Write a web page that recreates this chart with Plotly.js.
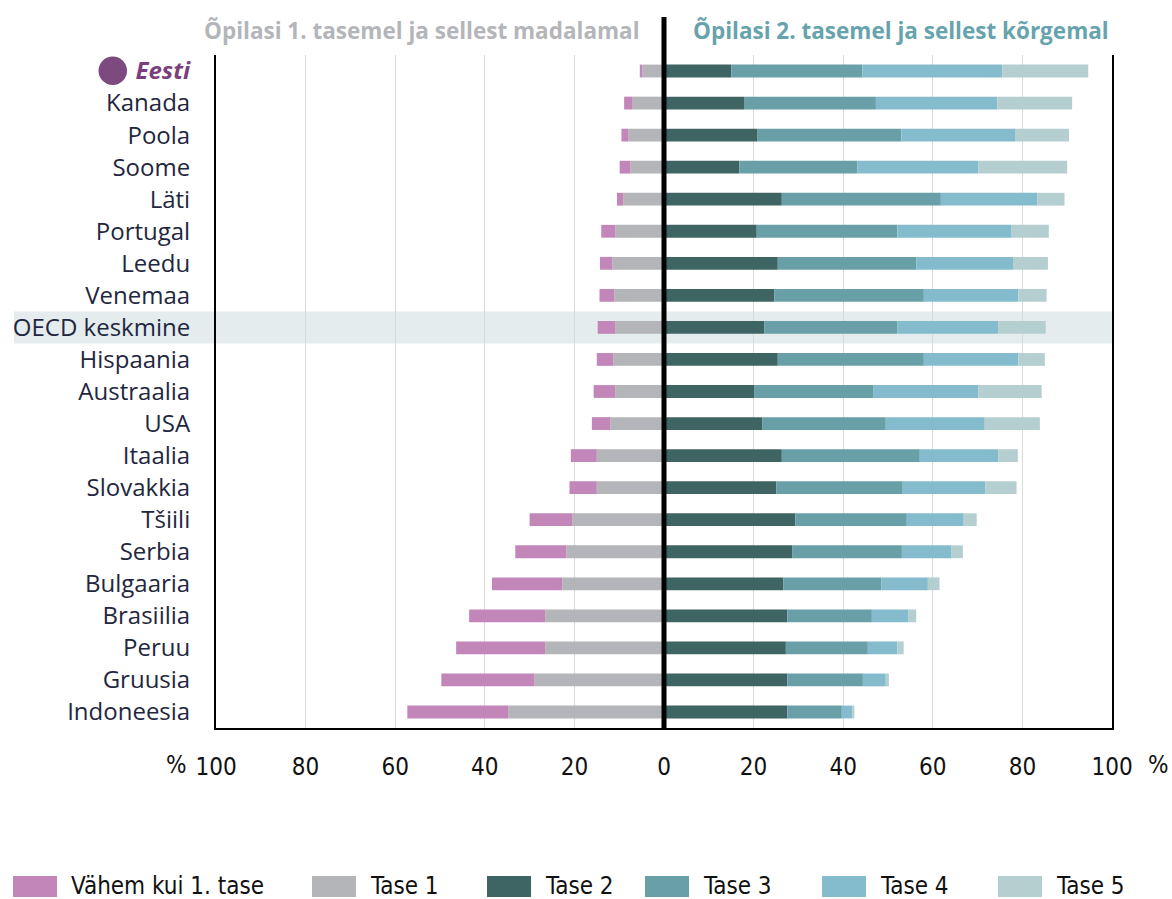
<!DOCTYPE html>
<html>
<head>
<meta charset="utf-8">
<script src="https://cdn.plot.ly/plotly-3.0.1.min.js"></script>
<style>html,body{margin:0;padding:0;background:#fff;}#chart{width:1172px;height:899px;}</style>
</head>
<body>
<div id="chart"></div>
<script>
// ---- data (percent of students) ----
var categories = ["Eesti","Kanada","Poola","Soome","Läti","Portugal","Leedu","Venemaa","OECD keskmine","Hispaania","Austraalia","USA","Itaalia","Slovakkia","Tšiili","Serbia","Bulgaaria","Brasiilia","Peruu","Gruusia","Indoneesia"];
var belowLevel1 = [0.6,1.9,1.6,2.4,1.4,3.1,2.8,3.3,3.9,3.7,4.8,4.1,5.8,6.1,9.6,11.4,15.7,17.0,19.9,20.8,22.5];
var level1 = [4.8,7.0,7.9,7.5,9.1,10.9,11.5,11.1,10.9,11.3,10.9,12.0,15.0,15.0,20.4,21.8,22.7,26.5,26.5,28.9,34.8];
var level2 = [15.0,18.0,20.9,16.8,26.3,20.7,25.4,24.6,22.4,25.4,20.1,21.9,26.3,25.1,29.3,28.7,26.6,27.5,27.2,27.5,27.5];
var level3 = [29.3,29.3,32.1,26.4,35.5,31.4,30.9,33.4,29.7,32.6,26.7,27.6,30.8,28.2,24.9,24.4,21.9,18.9,18.3,16.9,12.2];
var level4 = [31.2,27.1,25.5,27.0,21.5,25.5,21.6,21.1,22.5,21.1,23.4,22.1,17.5,18.4,12.7,11.1,10.4,8.1,6.6,5.1,2.3];
var level5 = [19.2,16.7,11.9,19.8,6.1,8.3,7.8,6.3,10.6,5.9,14.1,12.3,4.4,7.0,2.9,2.5,2.6,1.8,1.4,0.7,0.5];
var seriesNames = ["Vähem kui 1. tase","Tase 1","Tase 2","Tase 3","Tase 4","Tase 5"];
var tickVals = [-100,-80,-60,-40,-20,0,20,40,60,80,100];
var tickLabels = ["100","80","60","40","20","0","20","40","60","80","100"];
var leftTitle = "Õpilasi 1. tasemel ja sellest madalamal";
var rightTitle = "Õpilasi 2. tasemel ja sellest kõrgemal";
var highlightCategory = "OECD keskmine";
var homeCategory = "Eesti";

// ---- styles ----
var colors = ["#c386b8","#b4b5b8","#3f6464","#69a0a8","#85bccd","#b5cfd1"];
var narrowFont = "'DejaVu Sans Condensed', 'Liberation Sans', sans-serif";
var W = 1172, H = 899;
var M = {l:216, r:60, t:55, b:171};
var PW = W - M.l - M.r, PH = H - M.t - M.b;
function px2x(px){ return (px - M.l) / PW; }
function px2y(py){ return (H - M.b - py) / PH; }

function neg(a){ return a.map(function(v){ return -v; }); }

var seriesVals = [neg(belowLevel1), neg(level1), level2, level3, level4, level5];
// stacking order for relative mode: Tase 1 nearest zero on negative side
var order = [1,0,2,3,4,5];
var traces = order.map(function(i){
  return {
    type:'bar', orientation:'h', name: seriesNames[i],
    x: seriesVals[i], y: categories,
    marker:{color: colors[i], line:{width:0}},
    hoverinfo:'skip', showlegend:false
  };
});

var tickText = categories.map(function(c){
  return c === homeCategory ? '<span style="color:#7b3f7e"><b><i>' + c + '</i></b></span>' : c;
});

var hIdx = categories.indexOf(highlightCategory);
var shapes = [
  {type:'rect', layer:'below', xref:'paper', yref:'y', x0: px2x(14), x1: 1, y0: hIdx-0.5, y1: hIdx+0.5,
   fillcolor:'#e4ecee', line:{width:0}},
  {type:'line', layer:'above', xref:'x', yref:'paper', x0:0, x1:0, y0:0, y1: px2y(17),
   line:{color:'#000', width:5}},
  {type:'circle', xref:'paper', yref:'paper', x0: px2x(98.5), x1: px2x(127), y0: px2y(85), y1: px2y(56.5),
   fillcolor:'#7d4a80', line:{width:0}}
];

var annotations = [
  {xref:'x', yref:'paper', x:-5, y: px2y(31), xanchor:'right', yanchor:'middle', showarrow:false,
   text:'<b>'+leftTitle+'</b>', font:{family:'Open Sans', size:22.5, color:'#b3b5b9'}},
  {xref:'x', yref:'paper', x:6, y: px2y(31), xanchor:'left', yanchor:'middle', showarrow:false,
   text:'<b>'+rightTitle+'</b>', font:{family:'Open Sans', size:22.5, color:'#67a3ad'}},
  {xref:'paper', yref:'paper', x: px2x(176), y: px2y(765), xanchor:'center', yanchor:'middle', showarrow:false,
   text:'%', font:{family:narrowFont, size:24, color:'#111'}},
  {xref:'paper', yref:'paper', x: px2x(1158), y: px2y(765), xanchor:'center', yanchor:'middle', showarrow:false,
   text:'%', font:{family:narrowFont, size:24, color:'#111'}}
];

var legendBoxLeft = [13, 312, 487, 645, 822, 998];
var legendY = 886;
seriesNames.forEach(function(n, i){
  var bx = legendBoxLeft[i];
  shapes.push({type:'rect', xref:'paper', yref:'paper', x0: px2x(bx), x1: px2x(bx+44),
    y0: px2y(897), y1: px2y(876), fillcolor: colors[i], line:{width:0}});
  annotations.push({xref:'paper', yref:'paper', x: px2x(bx+56), y: px2y(legendY), xanchor:'left', yanchor:'middle',
    showarrow:false, text:n, font:{family:narrowFont, size:24, color:'#111'}});
});

var layout = {
  width: W, height: H,
  margin: M,
  paper_bgcolor:'#fff', plot_bgcolor:'rgba(0,0,0,0)',
  barmode:'relative', bargap:0.6,
  showlegend:false,
  xaxis:{
    range:[-100,100], tickmode:'array', tickvals: tickVals, ticktext: tickLabels,
    showgrid:true, gridcolor:'#d9d9d9', gridwidth:1, zeroline:false,
    showline:true, linecolor:'#000', linewidth:2,
    ticks:'', ticklabelstandoff: 16,
    tickfont:{family:narrowFont, size:24, color:'#111'},
    fixedrange:true
  },
  yaxis:{
    autorange:'reversed', type:'category',
    tickmode:'array', tickvals: categories, ticktext: tickText,
    showgrid:false, zeroline:false,
    showline:true, mirror:true, linecolor:'#000', linewidth:2,
    ticks:'', ticklabelstandoff: 19,
    tickfont:{family:'Open Sans', size:24, color:'#1f2740'},
    fixedrange:true
  },
  shapes: shapes,
  annotations: annotations
};

Plotly.newPlot('chart', traces, layout, {displayModeBar:false, staticPlot:true});
</script>
</body>
</html>
